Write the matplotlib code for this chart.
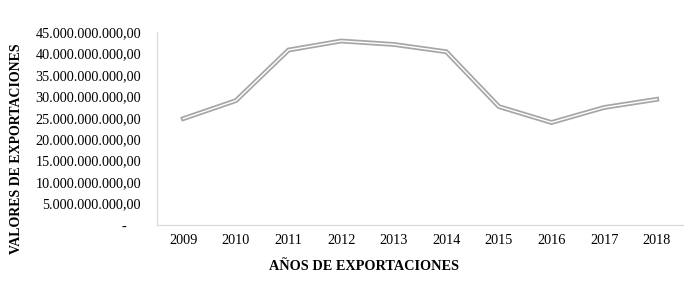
import matplotlib.pyplot as plt
import numpy as np

plt.rcParams['font.family'] = ['Liberation Serif', 'DejaVu Serif']

years = ['2009', '2010', '2011', '2012', '2013', '2014', '2015', '2016', '2017', '2018']
# export values (in units)
exports = [24.8e9, 29.0e9, 40.8e9, 42.9e9, 42.1e9, 40.4e9, 27.6e9, 23.9e9, 27.4e9, 29.3e9]
yticks = [0, 5e9, 10e9, 15e9, 20e9, 25e9, 30e9, 35e9, 40e9, 45e9]


def fmt(v):
    if v == 0:
        return '-    '
    s = f'{v:,.2f}'
    return s.replace(',', 'X').replace('.', ',').replace('X', '.')


fig = plt.figure(figsize=(6.89, 2.92), dpi=100)
ax = fig.add_axes([157 / 689, 1 - 225 / 292, (683 - 157) / 689, (225 - 32) / 292])

x = np.arange(len(years))
# double line: gray outer with white core
ax.plot(x, exports, color='#a6a6a6', lw=3.5, solid_joinstyle='miter', zorder=2)
ax.plot(x, exports, color='white', lw=1.0, solid_joinstyle='miter', zorder=3)

ax.set_xlim(-0.5, len(years) - 0.5)
ax.set_ylim(0, 45e9)
ax.set_xticks(x)
ax.set_xticklabels(years, fontsize=10.3)
ax.set_yticks(yticks)
ax.set_yticklabels([fmt(v) for v in yticks], fontsize=10.3)
ax.tick_params(length=0)
ax.tick_params(axis='x', pad=6.5)
ax.tick_params(axis='y', pad=11.5)

for side in ['top', 'right']:
    ax.spines[side].set_visible(False)
for side in ['left', 'bottom']:
    ax.spines[side].set_color('#d9d9d9')
    ax.spines[side].set_linewidth(0.9)

fig.text(364 / 689, 1 - 267 / 292, 'AÑOS DE EXPORTACIONES', ha='center', va='center',
         fontsize=10.3, fontweight='bold')
fig.text(17 / 689, 1 - 149 / 292, 'VALORES DE EXPORTACIONES', ha='center', va='center',
         rotation=90, fontsize=10.0, fontweight='bold')

fig.savefig('out.png', dpi=100)
